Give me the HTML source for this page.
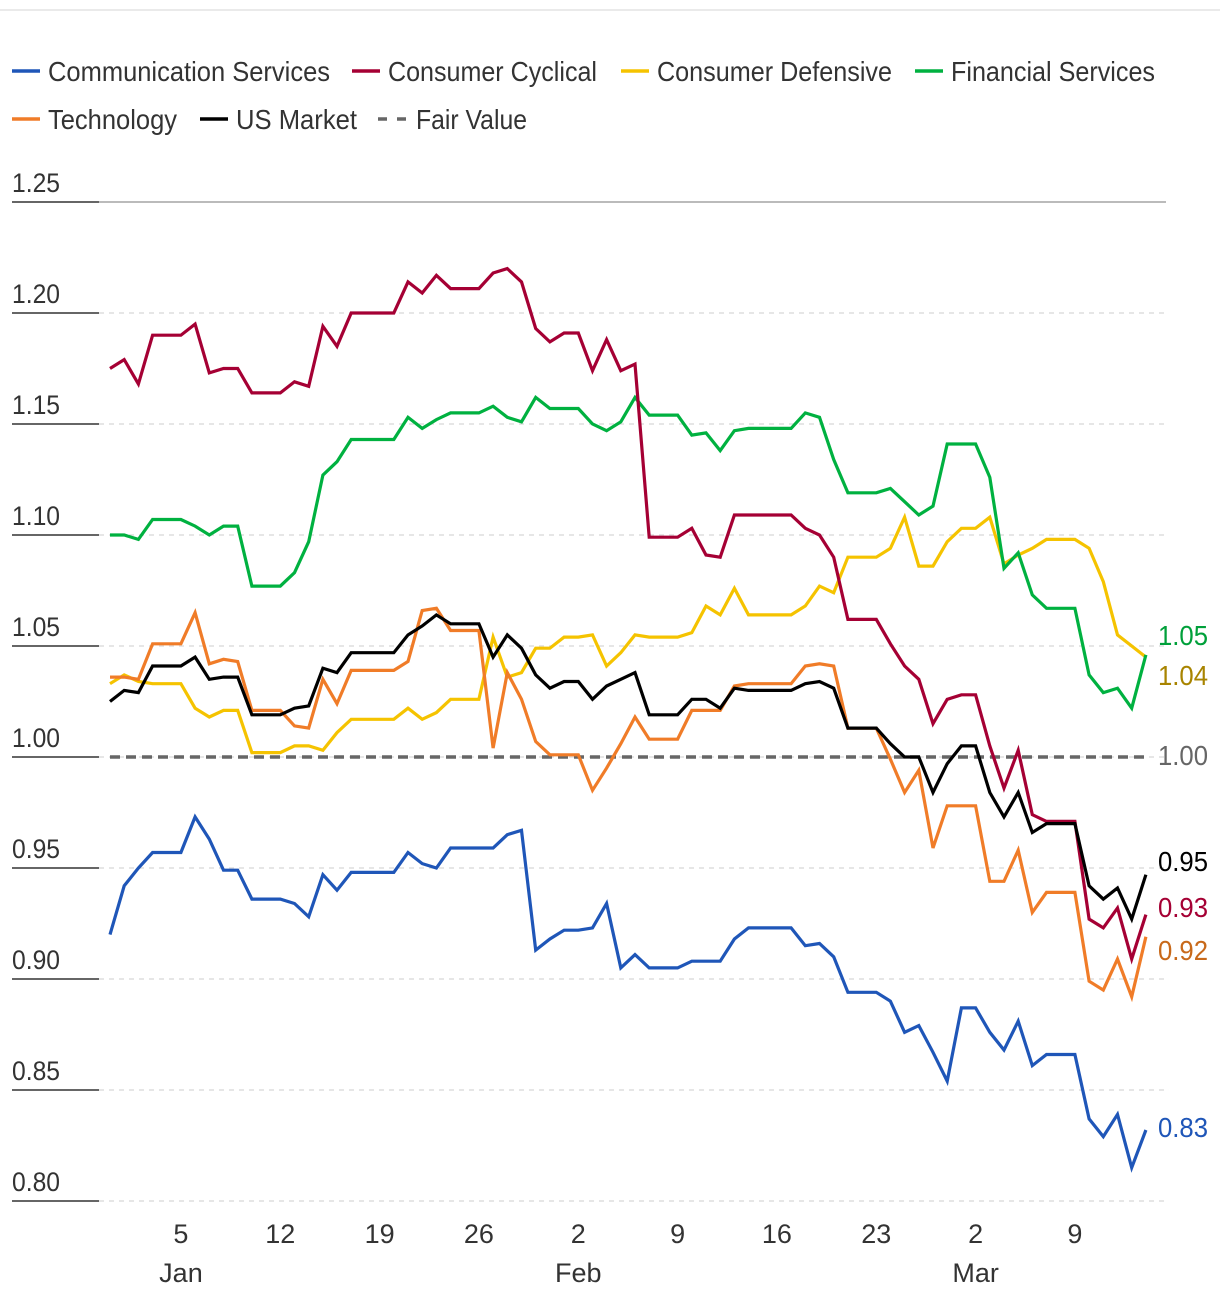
<!DOCTYPE html>
<html><head><meta charset="utf-8"><style>
html,body{margin:0;padding:0;background:#fff;}
svg{display:block;font-family:"Liberation Sans",sans-serif;}
</style></head><body>
<svg id="chart" width="1220" height="1304" viewBox="0 0 1220 1304" xmlns="http://www.w3.org/2000/svg">
<line x1="0" y1="10" x2="1220" y2="10" stroke="#e3e3e3" stroke-width="1.5"/>
<g id="legend"></g>
<g id="grid"></g>
<g id="series"></g>
<g id="labels"></g>
<g id="xaxis"></g>
</svg>
<script>
const yTicks = [1.25,1.20,1.15,1.10,1.05,1.00,0.95,0.90,0.85,0.80];
const xTickDays = [5,12,19,26,33,40,47,54,61,68];
const xTickLabels = ["5","12","19","26","2","9","16","23","2","9"];
const monthLabels = [{d:5,t:"Jan"},{d:33,t:"Feb"},{d:61,t:"Mar"}];
const commServices = [.920,.942,.950,.957,.957,.957,.973,.963,.949,.949,.936,.936,.936,.934,.928,.947,.940,.948,.948,.948,.948,.957,.952,.950,.959,.959,.959,.959,.965,.967,.913,.918,.922,.922,.923,.934,.905,.911,.905,.905,.905,.908,.908,.908,.918,.923,.923,.923,.923,.915,.916,.910,.894,.894,.894,.890,.876,.879,.867,.854,.887,.887,.876,.868,.881,.861,.866,.866,.866,.837,.829,.839,.815,.832];
const consCyclical = [1.175,1.179,1.168,1.190,1.190,1.190,1.195,1.173,1.175,1.175,1.164,1.164,1.164,1.169,1.167,1.194,1.185,1.200,1.200,1.200,1.200,1.214,1.209,1.217,1.211,1.211,1.211,1.218,1.220,1.214,1.193,1.187,1.191,1.191,1.174,1.188,1.174,1.177,1.099,1.099,1.099,1.103,1.091,1.090,1.109,1.109,1.109,1.109,1.109,1.103,1.100,1.090,1.062,1.062,1.062,1.051,1.041,1.035,1.015,1.026,1.028,1.028,1.005,.986,1.003,.974,.971,.971,.971,.927,.923,.932,.909,.929];
const consDefensive = [1.033,1.037,1.034,1.033,1.033,1.033,1.022,1.018,1.021,1.021,1.002,1.002,1.002,1.005,1.005,1.003,1.011,1.017,1.017,1.017,1.017,1.022,1.017,1.020,1.026,1.026,1.026,1.054,1.036,1.038,1.049,1.049,1.054,1.054,1.055,1.041,1.047,1.055,1.054,1.054,1.054,1.056,1.068,1.064,1.076,1.064,1.064,1.064,1.064,1.068,1.077,1.074,1.090,1.090,1.090,1.094,1.108,1.086,1.086,1.097,1.103,1.103,1.108,1.087,1.091,1.094,1.098,1.098,1.098,1.094,1.079,1.055,1.050,1.045];
const finServices = [1.100,1.100,1.098,1.107,1.107,1.107,1.104,1.100,1.104,1.104,1.077,1.077,1.077,1.083,1.097,1.127,1.133,1.143,1.143,1.143,1.143,1.153,1.148,1.152,1.155,1.155,1.155,1.158,1.153,1.151,1.162,1.157,1.157,1.157,1.150,1.147,1.151,1.162,1.154,1.154,1.154,1.145,1.146,1.138,1.147,1.148,1.148,1.148,1.148,1.155,1.153,1.134,1.119,1.119,1.119,1.121,1.115,1.109,1.113,1.141,1.141,1.141,1.126,1.085,1.092,1.073,1.067,1.067,1.067,1.037,1.029,1.031,1.022,1.046];
const technology = [1.036,1.036,1.035,1.051,1.051,1.051,1.065,1.042,1.044,1.043,1.021,1.021,1.021,1.014,1.013,1.035,1.024,1.039,1.039,1.039,1.039,1.043,1.066,1.067,1.057,1.057,1.057,1.004,1.038,1.026,1.007,1.001,1.001,1.001,.985,.995,1.006,1.018,1.008,1.008,1.008,1.021,1.021,1.021,1.032,1.033,1.033,1.033,1.033,1.041,1.042,1.041,1.013,1.013,1.013,.999,.984,.994,.959,.978,.978,.978,.944,.944,.958,.930,.939,.939,.939,.899,.895,.909,.892,.919];
const usMarket = [1.025,1.030,1.029,1.041,1.041,1.041,1.045,1.035,1.036,1.036,1.019,1.019,1.019,1.022,1.023,1.040,1.038,1.047,1.047,1.047,1.047,1.055,1.059,1.064,1.060,1.060,1.060,1.045,1.055,1.049,1.037,1.031,1.034,1.034,1.026,1.032,1.035,1.038,1.019,1.019,1.019,1.026,1.026,1.022,1.031,1.030,1.030,1.030,1.030,1.033,1.034,1.031,1.013,1.013,1.013,1.006,1.000,1.000,.984,.997,1.005,1.005,.984,.973,.984,.966,.970,.970,.970,.942,.936,.941,.927,.947];
const fairValue = 1.00;
const seriesNames = ["Communication Services","Consumer Cyclical","Consumer Defensive","Financial Services","Technology","US Market"];

const NS="http://www.w3.org/2000/svg";
const X0=110, DX=14.19, Y100=757, PXPER=2220;
const xScale=d=>X0+d*DX;
const yScale=v=>Y100-(v-1)*PXPER;
function mk(tag,attrs,parent){const e=document.createElementNS(NS,tag);for(const k in attrs)e.setAttribute(k,attrs[k]);parent.appendChild(e);return e;}

const grid=document.getElementById('grid');
yTicks.forEach((t,i)=>{
  const y=yScale(t);
  const g=mk('g',{},grid);
  
  
  mk('line',{x1:12,x2:99,y1:y,y2:y,stroke:'#666',"stroke-width":2},g);
  if(i===0) mk('line',{x1:99,x2:1166,y1:y,y2:y,stroke:'#777',"stroke-width":1},g);
  else mk('line',{x1:99,x2:1166,y1:y,y2:y,stroke:'#ddd',"stroke-width":1.5,"stroke-dasharray":"5 5"},g);
  const tx=mk('text',{x:12,y:y-10,"font-size":27,fill:'#333',textLength:48,lengthAdjust:'spacingAndGlyphs'},g);
  tx.textContent=t.toFixed(2);
});

const fv=mk('line',{x1:110,x2:1146,y1:yScale(fairValue),y2:yScale(fairValue),stroke:'#666',"stroke-width":3.5,"stroke-dasharray":"10 6"},grid);



const colors=["#1f56b8","#a50034","#f5c300","#00b140","#f07c28","#000000"];
const labelColors=["#1f56b8","#a50034","#a88400","#00a03a","#c8691a","#000000"];
const data=[commServices,consCyclical,consDefensive,finServices,technology,usMarket];
const order=[2,4,3,1,5,0];
const sg=document.getElementById('series');
order.forEach(i=>{
  const pts=data[i].map((v,d)=>xScale(d).toFixed(1)+','+yScale(v).toFixed(1)).join(' ');
  const p=mk('polyline',{points:pts,fill:'none',stroke:colors[i],"stroke-width":3.2,"stroke-linejoin":"miter"},sg);
  
  
});

const lg=document.getElementById('labels');
const endLabelY={0:1127,1:907,2:675,3:635,4:950,5:861};
data.forEach((s,i)=>{
  const v=s[s.length-1];
  const t=mk('text',{x:1158,y:endLabelY[i]+10,"font-size":28,fill:labelColors[i],textLength:50,lengthAdjust:'spacingAndGlyphs'},lg);
  t.textContent=v.toFixed(2);
  
  
});
const fvl=mk('text',{x:1158,y:765,"font-size":28,fill:'#666',textLength:50,lengthAdjust:'spacingAndGlyphs'},lg);
fvl.textContent=fairValue.toFixed(2);



const xa=document.getElementById('xaxis');
xTickDays.forEach((d,i)=>{
  const t=mk('text',{x:xScale(d),y:1243,"font-size":27,fill:'#333',"text-anchor":'middle'},xa);
  t.textContent=xTickLabels[i];
  
  
});
monthLabels.forEach(m=>{
  const t=mk('text',{x:xScale(m.d),y:1282,"font-size":27,fill:'#333',"text-anchor":'middle'},xa);
  t.textContent=m.t;
  
  
});

const leg=document.getElementById('legend');
const legendItems=[
 {n:"Communication Services",c:colors[0],x:12,y:71,w:282},
 {n:"Consumer Cyclical",c:colors[1],x:352,y:71,w:209},
 {n:"Consumer Defensive",c:colors[2],x:621,y:71,w:235},
 {n:"Financial Services",c:colors[3],x:915,y:71,w:204},
 {n:"Technology",c:colors[4],x:12,y:119,w:129},
 {n:"US Market",c:colors[5],x:200,y:119,w:121},
 {n:"Fair Value",c:"#666",x:378,y:119,w:111,dash:true}
];
legendItems.forEach(it=>{
  const g=mk('g',{},leg);
  
  
  if(it.dash){
    mk('line',{x1:it.x,x2:it.x+9,y1:it.y,y2:it.y,stroke:it.c,"stroke-width":3.5},g);
    mk('line',{x1:it.x+19,x2:it.x+28,y1:it.y,y2:it.y,stroke:it.c,"stroke-width":3.5},g);
  } else mk('line',{x1:it.x,x2:it.x+28,y1:it.y,y2:it.y,stroke:it.c,"stroke-width":3.5},g);
  const t=mk('text',{x:it.x+(it.dash?38:36),y:it.y+10,"font-size":28,fill:'#333',textLength:it.w,lengthAdjust:'spacingAndGlyphs'},g);
  t.textContent=it.n;
});
</script>
</body></html>
